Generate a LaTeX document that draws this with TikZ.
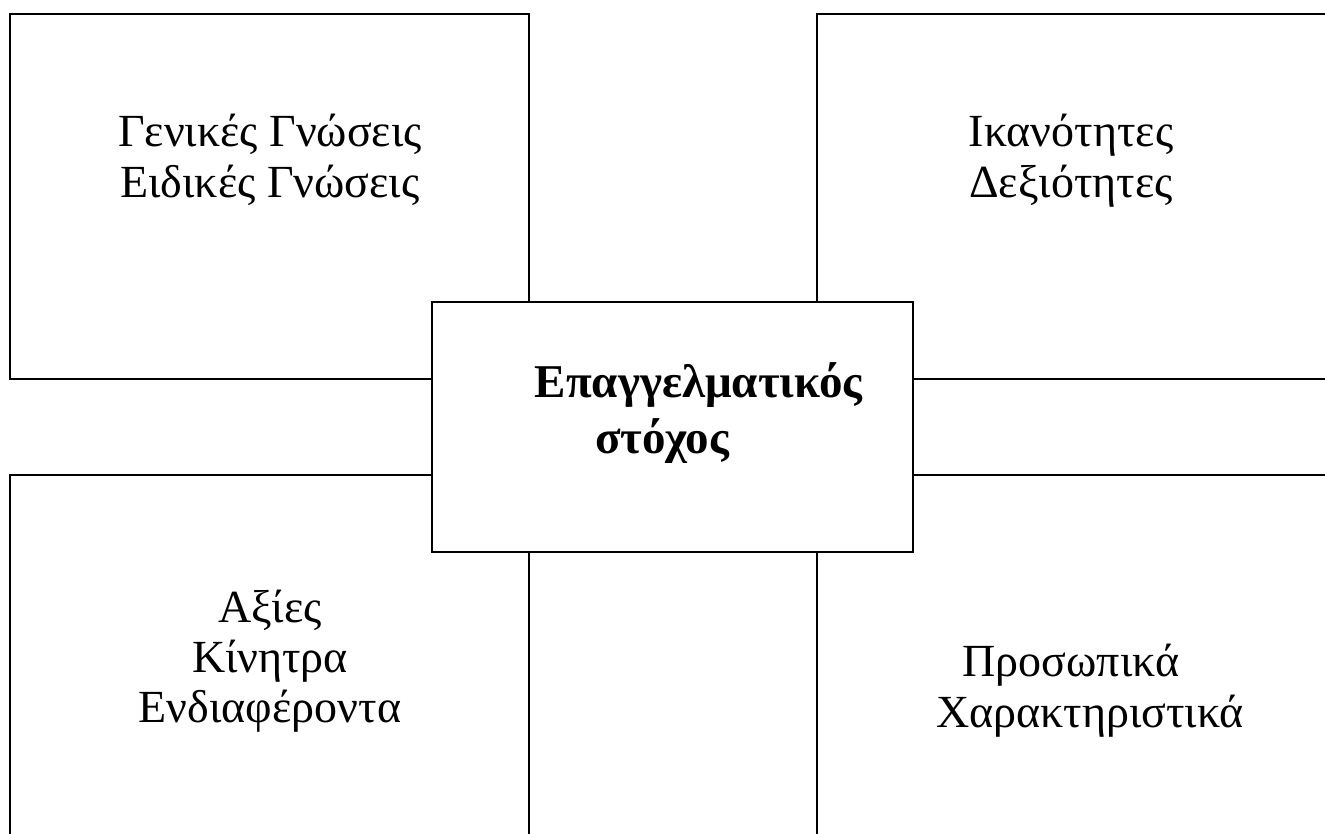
\documentclass[tikz,border=0pt]{standalone}
\usepackage{fontspec}
\setmainfont{Liberation Serif}
\begin{document}
\begin{tikzpicture}[x=1pt,y=-1pt,
  box/.style={draw=black, line width=2pt, rectangle, inner sep=0pt, fill=white},
  lbl/.style={font=\fontsize{46}{52}\selectfont, inner sep=0pt, anchor=base},
  blbl/.style={font=\fontsize{47}{54}\selectfont\bfseries, inner sep=0pt, anchor=base}]
\clip (0,0) rectangle (1325,834);
\fill[white] (0,0) rectangle (1325,834);
\node[box, minimum width=519pt, minimum height=365pt] (tl) at (269.5,196.5) {};
\node[box, minimum width=523pt, minimum height=365pt] (tr) at (1078.5,196.5) {};
\node[box, minimum width=519pt, minimum height=375pt] (bl) at (269.5,662.5) {};
\node[box, minimum width=523pt, minimum height=375pt] (br) at (1078.5,662.5) {};
\node[box, minimum width=481pt, minimum height=250pt] (c) at (672.5,427) {};
\node[lbl] (tl1) at (270,147) {Γενικές Γνώσεις};
\node[lbl] (tl2) at (270,198) {Ειδικές Γνώσεις};
\node[lbl] (tr1) at (1071,147) {Ικανότητες};
\node[lbl] (tr2) at (1071,198) {Δεξιότητες};
\node[lbl] (bl1) at (270,622) {Αξίες};
\node[lbl] (bl2) at (270,672) {Κίνητρα};
\node[lbl] (bl3) at (270,722) {Ενδιαφέροντα};
\node[lbl] (br1) at (1071,676) {Προσωπικά};
\node[lbl] (br2) at (1090,727) {Χαρακτηριστικά};
\node[blbl] (c1) at (698.5,397) {Επαγγελματικός};
\node[blbl] (c2) at (662,453) {στόχος};
\end{tikzpicture}
\end{document}
